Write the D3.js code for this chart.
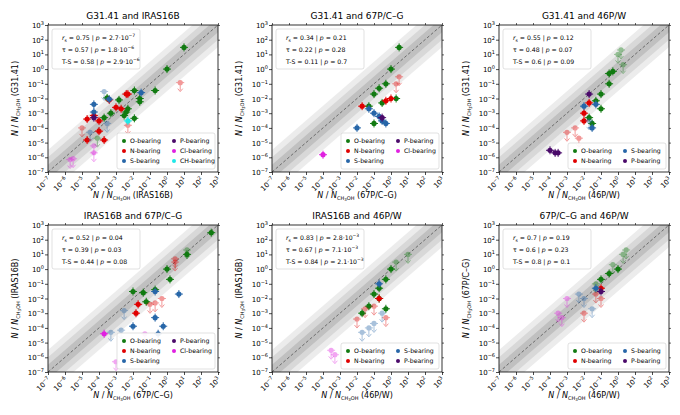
<!DOCTYPE html><html><head><meta charset="utf-8">
<script src="https://cdn.jsdelivr.net/npm/d3@7"></script>
<style>body{margin:0;background:#fff}text{font-family:"DejaVu Sans",sans-serif}</style></head><body>
<svg id="c" width="680" height="415"></svg>
<script>
const groups=["O","N","S","P","Cl","CH"];
const groupLabels={O:"O-bearing",N:"N-bearing",S:"S-bearing",P:"P-bearing",Cl:"Cl-bearing",CH:"CH-bearing"};
const groupColors={O:"#117a11",N:"#e00000",S:"#2766a8",P:"#4a0a6a",Cl:"#e020e0",CH:"#20e8e8"};
const tickExps=d3.range(-7,4);
// [x, y, group, upperLimit(0/1)]
const p1=[[10,30,"O",0],[1,1,"O",0],[0.2,0.035,"O",0],[0.012,0.035,"O",0],[0.012,0.00045,"O",0],[0.025,0.01,"O",0],[0.025,0.006,"O",0],[0.005,0.002,"O",0],[0.004,0.0012,"O",0],[0.003,0.0007,"O",0],[0.0015,0.008,"O",0],[0.0003,0.011,"O",0],[0.0005,0.001,"O",0],[0.0002,0.0005,"O",0],[0.00008,0.00002,"O",1],
[0.005,0.02,"N",0],[0.004,0.02,"N",0],[0.002,0.002,"N",0],[0.001,0.0025,"N",0],[0.0004,0.008,"N",0],[0.0001,0.0003,"N",0],[0.0001,0.00006,"N",0],[0.00005,0.0007,"N",0],[0.00002,0.0004,"N",0],[0.00002,0.000015,"N",0],[0.0002,0.000015,"N",0],[6,0.12,"N",1],[0.00001,0.0001,"N",1],[0.005,0.00015,"N",1],
[0.03,0.025,"S",0],[0.0004,0.009,"S",0],[0.00005,0.004,"S",0],[0.00005,0.0012,"S",0],[0.0002,0.03,"S",1],[0.0003,0.0002,"S",1],[0.00003,0.00005,"S",1],
[0.00005,0.0005,"P",0],
[0.000003,0.0000008,"Cl",1],[0.000002,0.0000007,"Cl",1],[0.00005,0.000002,"Cl",1],[0.00005,0.000006,"Cl",1],
[0.005,0.0003,"CH",0]];
const p2=[[3,30,"O",0],[1,1,"O",0],[0.5,0.1,"O",0],[0.2,0.05,"O",0],[0.1,0.02,"O",0],[0.05,0.003,"O",0],[0.3,0.005,"O",0],[2,0.01,"O",0],[0.1,0.0002,"O",0],
[1,0.01,"N",0],[0.5,0.007,"N",0],[0.02,0.003,"N",0],[3,0.3,"N",1],[2,0.1,"N",1],
[0.01,0.0001,"S",0],[0.3,0.0003,"S",0],[0.2,0.0006,"S",0],[0.5,0.0002,"S",0],[0.1,0.001,"S",0],[0.05,0.002,"S",0],
[0.3,0.0005,"P",0],[0.0001,0.0000015,"Cl",0]];
const p3=[[0.5,0.7,"O",0],[0.3,0.1,"O",0],[0.1,0.02,"O",0],[0.05,0.007,"O",0],[0.1,0.002,"O",0],[0.02,0.0005,"O",0],[0.03,0.0002,"O",0],[2,2,"O",1],[0.3,0.5,"O",0],[1,10,"O",1],[1.5,20,"O",1],
[0.02,0.005,"N",0],[0.01,0.001,"N",0],[0.003,0.0001,"N",1],[0.001,0.00005,"N",1],[0.01,0.0003,"N",0],[0.005,0.00002,"N",1],
[0.05,0.004,"S",0],[0.03,0.0001,"S",0],[0.01,0.003,"S",0],[0.02,0.0003,"S",1],
[0.0001,0.000003,"P",0],[0.0002,0.000002,"P",0],[0.0003,0.000002,"P",0],[0.02,0.02,"P",0]];
const p4=[[400,300,"O",0],[15,10,"O",0],[15,20,"O",1],[1,1,"O",0],[1.5,0.2,"O",0],[0.2,0.04,"O",0],[0.01,0.03,"O",0],[0.04,0.025,"O",0],[0.06,0.006,"O",0],
[0.02,0.004,"N",0],[0.015,0.001,"N",0],[3,5,"N",1],[3,3,"N",1],[0.5,0.01,"N",1],[0.2,0.005,"N",1],[0.1,0.004,"N",1],
[0.2,0.03,"S",0],[5,0.02,"S",0],[0.2,0.0005,"S",0],[0.6,0.00013,"S",0],[0.01,0.00013,"S",0],[0.3,0.00004,"S",0],[0.002,0.00007,"S",1],[0.003,0.0015,"S",1],[0.0005,0.00005,"S",1],
[0.0002,0.00004,"Cl",0],[0.05,0.00004,"Cl",1],[0.001,0.0000005,"Cl",1]];
const p5=[[10,10,"O",1],[1,1,"O",0],[0.5,0.2,"O",0],[0.2,0.05,"O",0],[0.2,0.01,"O",0],[0.1,0.02,"O",0],[0.05,0.003,"O",0],[0.5,0.002,"O",0],[0.02,0.001,"O",0],[2,3,"O",1],
[0.2,0.01,"N",0],[0.1,0.003,"N",1],[0.03,0.002,"N",1],[0.5,0.0005,"N",1],[0.01,0.0004,"N",1],
[0.2,0.1,"S",0],[0.1,0.0002,"S",1],[0.05,0.0001,"S",1],[0.02,0.00005,"S",1],[0.3,0.001,"S",1],
[0.0003,0.000003,"Cl",1],[0.0005,0.0000015,"Cl",1]];
const p6=[[1,1,"O",0],[2,10,"O",1],[0.5,2,"O",1],[0.3,0.5,"O",0],[0.1,0.2,"O",0],[0.05,0.1,"O",1],[3,20,"O",1],
[0.1,0.05,"N",0],[0.05,0.02,"N",1],[0.1,0.01,"N",1],[0.01,0.001,"N",1],
[0.05,0.05,"S",0],[0.01,0.01,"S",1],[0.005,0.02,"S",1],[0.03,0.002,"S",1],
[0.1,0.03,"P",0],[0.0003,0.001,"Cl",1],[0.0005,0.0005,"Cl",1],[0.001,0.01,"Cl",1]];
const titles=["G31.41 and IRAS16B","G31.41 and 67P/C\u2013G","G31.41 and 46P/W","IRAS16B and 67P/C\u2013G","IRAS16B and 46P/W","67P/C\u2013G and 46P/W"];
const xNames=["IRAS16B","67P/C\u2013G","46P/W","67P/C\u2013G","46P/W","46P/W"];
const yNames=["G31.41","G31.41","G31.41","IRAS16B","IRAS16B","67P/C\u2013G"];
const stats=[[["0.75","2.7·10","-7"],["0.57","1.8·10","-6"],["0.58","2.9·10","-6"]],
[["0.34","0.21"],["0.22","0.28"],["0.11","0.7"]],
[["0.55","0.12"],["0.48","0.07"],["0.6","0.09"]],
[["0.52","0.04"],["0.39","0.03"],["0.44","0.08"]],
[["0.83","2.8·10","-3"],["0.67","7.1·10","-3"],["0.84","2.1·10","-3"]],
[["0.7","0.19"],["0.6","0.23"],["0.8","0.1"]]];
const legendSets=[[["O","N","S"],["P","Cl","CH"]],[["O","N","S"],["P","Cl"]],[["O","N"],["S","P"]],[["O","N","S"],["P","Cl"]],[["O","N"],["S","P"]],[["O","N"],["S","P"]]];
const panels=[p1,p2,p3,p4,p5,p6];
const svg=d3.select("#c");
const lefts=[48,272,499], tops=[25,225], W=170, H=147;
panels.forEach((data,i)=>{
  const L=lefts[i%3],T=tops[Math.floor(i/3)];
  const g=svg.append("g").attr("transform",`translate(${L},${T})`);
  const x=d3.scaleLog().domain([1e-7,1e3]).range([0,W]);
  const y=d3.scaleLog().domain([1e-7,1e3]).range([H,0]);
  const cid="clip"+i;
  g.append("clipPath").attr("id",cid).append("rect").attr("width",W).attr("height",H);
  const pg=g.append("g").attr("clip-path",`url(#${cid})`);
  [[1.5,"#ececec"],[1,"#d8d8d8"],[0.5,"#c0c0c0"]].forEach(([d,c])=>{
    const lo=1e-7,hi=1e3;
    pg.append("path").attr("fill",c).attr("d",`M${x(lo)},${y(lo*10**d)}L${x(hi)},${y(hi*10**d)}L${x(hi)},${y(hi/10**d)}L${x(lo)},${y(lo/10**d)}Z`);
  });
  pg.append("line").attr("x1",x(1e-7)).attr("y1",y(1e-7)).attr("x2",x(1e3)).attr("y2",y(1e3)).attr("stroke","#555").attr("stroke-dasharray","3,2").attr("stroke-width",0.8);
  data.forEach(([vx,vy,gr,lim])=>{
    const c=groupColors[gr],op=lim?0.4:1;
    const cx=x(vx),cy=y(vy),e=4;
    const m=pg.append("g").attr("opacity",op).attr("stroke",c).attr("fill",c);
    m.append("line").attr("x1",cx-e).attr("x2",cx+e).attr("y1",cy).attr("y2",cy).attr("stroke-width",1);
    if(lim){m.append("line").attr("x1",cx).attr("x2",cx).attr("y1",cy).attr("y2",cy+8);
      m.append("path").attr("d",`M${cx-2.5},${cy+6}L${cx},${cy+9}L${cx+2.5},${cy+6}`).attr("fill","none");}
    else m.append("line").attr("x1",cx).attr("x2",cx).attr("y1",cy-e).attr("y2",cy+e);
    m.append("circle").attr("cx",cx).attr("cy",cy).attr("r",2.6).attr("stroke","none");
  });
  g.append("rect").attr("width",W).attr("height",H).attr("fill","none").attr("stroke","#000").attr("stroke-width",0.8);
  const fmt=(sel)=>sel.each(function(d){const t=d3.select(this);t.text("");t.append("tspan").text("10");t.append("tspan").attr("dy",-3).attr("font-size",5).text(d<0?"\u2212"+(-d):d);});
  const xa=g.append("g").attr("transform",`translate(0,${H})`).call(d3.axisBottom(x).tickValues(tickExps.map(e=>10**e)).tickSize(3).tickFormat(""));
  const ya=g.append("g").call(d3.axisLeft(y).tickValues(tickExps.map(e=>10**e)).tickSize(3).tickFormat(""));
  [xa,ya].forEach(a=>{a.select(".domain").remove();a.selectAll("line").attr("stroke","#000").attr("stroke-width",0.7);});
  g.append("g").attr("transform",`translate(${W},0)`).call(d3.axisRight(y).tickValues(tickExps.map(e=>10**e)).tickSize(2).tickFormat("")).call(a=>{a.select(".domain").remove();a.selectAll("line").attr("stroke","#000").attr("stroke-width",0.6);});
  g.append("g").call(d3.axisTop(x).tickValues(tickExps.map(e=>10**e)).tickSize(2).tickFormat("")).call(a=>{a.select(".domain").remove();a.selectAll("line").attr("stroke","#000").attr("stroke-width",0.6);});
  tickExps.forEach(e=>{
    g.append("text").datum(e).attr("font-size",7).attr("text-anchor","end").attr("transform",`translate(${x(10**e)+3},${H+8}) rotate(-45)`).call(fmt);
    g.append("text").datum(e).attr("font-size",7).attr("text-anchor","end").attr("x",-4).attr("y",y(10**e)+3).call(fmt);
  });
  g.append("text").attr("x",W/2).attr("y",-6).attr("text-anchor","middle").attr("font-size",9).text(titles[i]);
  const lab=(t,name)=>{t.append("tspan").attr("font-style","italic").text("N");t.append("tspan").text(" / ");t.append("tspan").attr("font-style","italic").text("N");
    t.append("tspan").attr("font-size",5).attr("dy",2).text("CH");t.append("tspan").attr("font-size",4).attr("dy",1).text("3");t.append("tspan").attr("font-size",5).attr("dy",-1).text("OH");t.append("tspan").attr("dy",-2).text(" ("+name+")");};
  g.append("text").attr("x",W/2).attr("y",H+26).attr("text-anchor","middle").attr("font-size",8).call(t=>lab(t,xNames[i]));
  g.append("text").attr("transform",`translate(-30,${H/2}) rotate(-90)`).attr("text-anchor","middle").attr("font-size",8).call(t=>lab(t,yNames[i]));
  const sb=g.append("g").attr("transform","translate(4,4)");
  sb.append("rect").attr("width",88).attr("height",40).attr("rx",2).attr("fill","#fff").attr("fill-opacity",0.85).attr("stroke","#ccc").attr("stroke-width",0.6);
  const names=[["r","s"],["\u03c4"],["T-S"]];
  stats[i].forEach((s,k)=>{
    const t=sb.append("text").attr("x",10).attr("y",11+k*12).attr("font-size",6.2);
    if(k===0){t.append("tspan").attr("font-style","italic").text("r");t.append("tspan").attr("font-size",4.5).attr("dy",1.5).text("s");t.append("tspan").attr("dy",-1.5).text(" = "+s[0]+"  |  ");}
    else t.append("tspan").text(names[k][0]+" = "+s[0]+"  |  ");
    t.append("tspan").attr("font-style","italic").text("p");t.append("tspan").text(" = "+s[1]);
    if(s[2]){t.append("tspan").attr("font-size",4.5).attr("dy",-3).text(s[2].replace("-","\u2212"));}
  });
  const ls=legendSets[i],rows=ls[0].length,lw=98,lh=rows*10+6;
  const lg=g.append("g").attr("transform",`translate(${W-lw-3},${H-lh-3})`);
  lg.append("rect").attr("width",lw).attr("height",lh).attr("rx",2).attr("fill","#fff").attr("fill-opacity",0.9).attr("stroke","#ccc").attr("stroke-width",0.6);
  ls.forEach((col,ci)=>col.forEach((gr,ri)=>{
    const lx=7+ci*50,ly=8+ri*10;
    lg.append("circle").attr("cx",lx).attr("cy",ly).attr("r",2).attr("fill",groupColors[gr]);
    lg.append("text").attr("x",lx+6).attr("y",ly+2.3).attr("font-size",6.2).text(groupLabels[gr]);
  }));
});
</script></body></html>
